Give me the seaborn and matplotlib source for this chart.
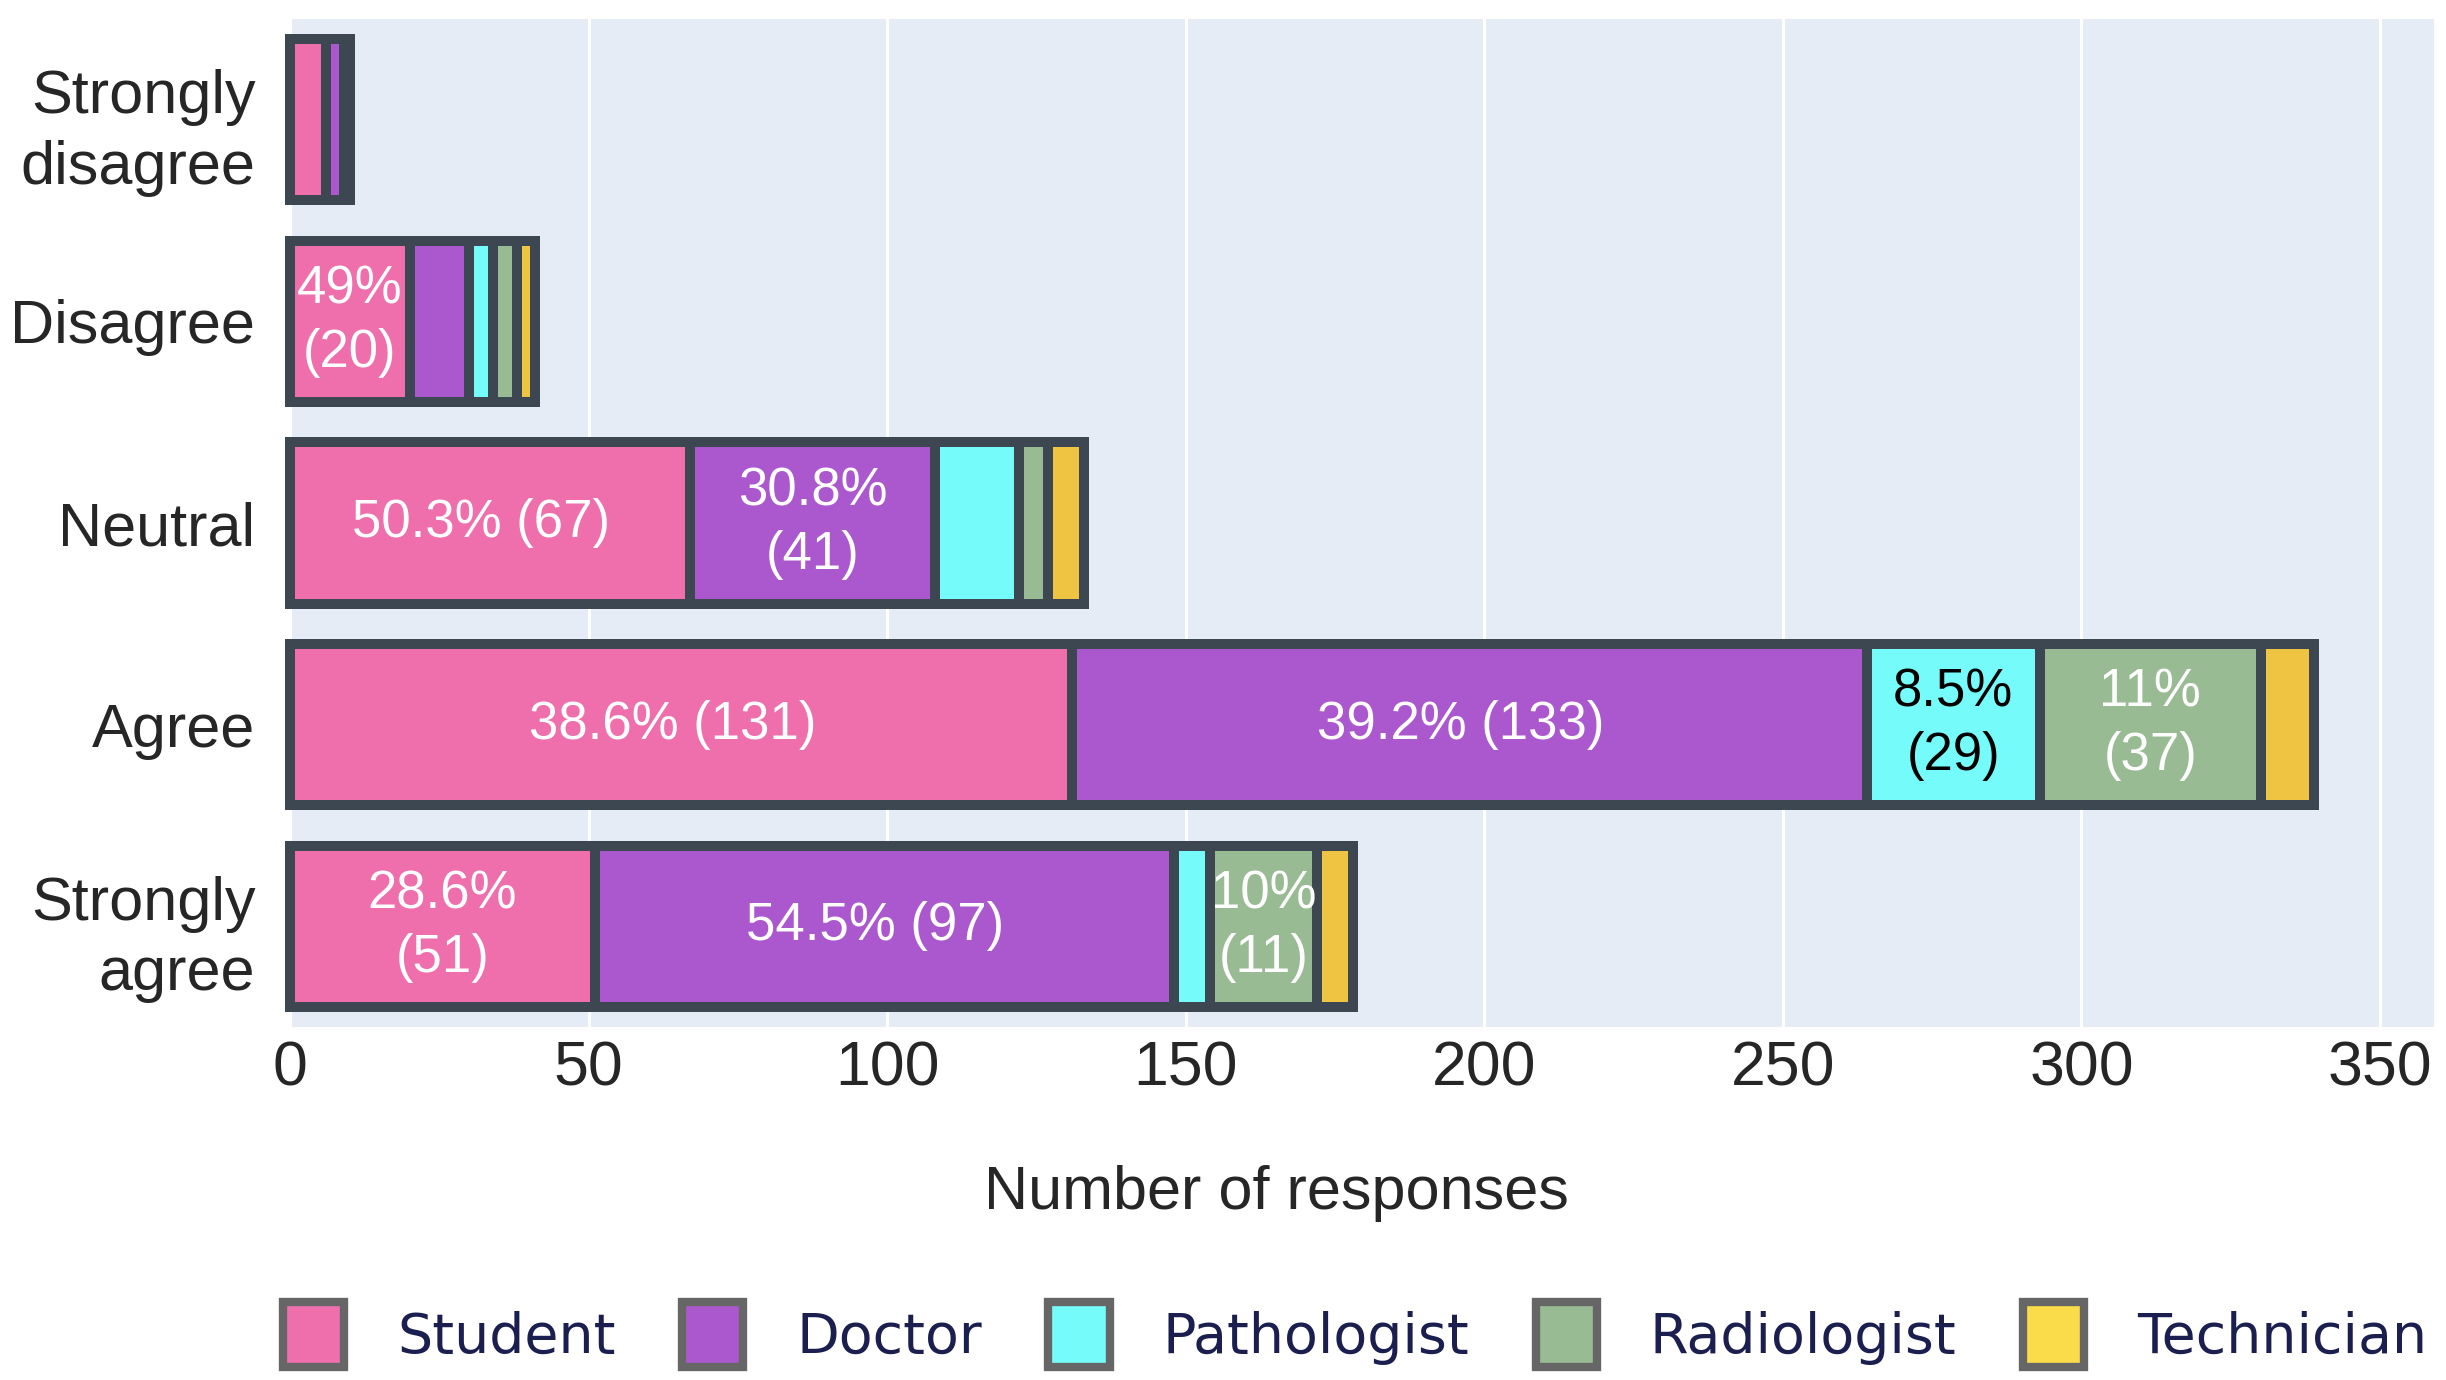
import numpy as np
import pandas as pd
import matplotlib
matplotlib.use("Agg")
import matplotlib.pyplot as plt
import seaborn as sns
from matplotlib.patches import Patch

# Data
responses = ["Strongly\ndisagree", "Disagree", "Neutral", "Agree", "Strongly\nagree"]
groups = ["Student", "Doctor", "Pathologist", "Radiologist", "Technician"]
student = [6, 20, 67, 131, 51]
doctor = [3, 10, 41, 133, 97]
pathologist = [0, 4, 14, 29, 6]
radiologist = [1, 4, 5, 37, 18]
technician = [0, 3, 6, 9, 6]

# segment labels as printed on the chart (None = no label)
student_labels = [None, "49%\n(20)", "50.3% (67)", "38.6% (131)", "28.6%\n(51)"]
doctor_labels = [None, None, "30.8%\n(41)", "39.2% (133)", "54.5% (97)"]
pathologist_labels = [None, None, None, "8.5%\n(29)", None]
radiologist_labels = [None, None, None, "11%\n(37)", "10%\n(11)"]
technician_labels = [None, None, None, None, None]

colors = ["#EE6FAC", "#AB58CE", "#76FBFB", "#99BB93", "#F0C443"]
legend_colors = ["#EE6FAC", "#AB58CE", "#76FBFB", "#99BB93", "#FADB4A"]
label_colors = ["white", "white", "black", "white", "white"]
edge = "#3C4751"

values = [student, doctor, pathologist, radiologist, technician]
labels = [student_labels, doctor_labels, pathologist_labels, radiologist_labels, technician_labels]

# cumulative widths so each segment is drawn as an overlaid bar from zero
cum = np.cumsum(np.array(values), axis=0)

sns.set_style("whitegrid", {"axes.facecolor": "#E5ECF6", "grid.color": "white"})
plt.rcParams["font.family"] = ["Liberation Sans", "DejaVu Sans"]

fig = plt.figure(figsize=(24.46, 13.80), dpi=100)
ax = fig.add_axes([0.1186, 0.2558, 0.8764, 0.7304])

for i in reversed(range(len(groups))):
    df = pd.DataFrame({"response": responses, "count": cum[i]})
    sns.barplot(data=df, x="count", y="response", order=responses, color=colors[i],
                saturation=1, width=0.8, edgecolor=edge, linewidth=7.2,
                errorbar=None, orient="h", ax=ax, zorder=3)

for p in ax.patches:
    p.set_clip_on(False)

for i in range(len(groups)):
    for j, r in enumerate(responses):
        txt = labels[i][j]
        if txt is None:
            continue
        xc = cum[i][j] - values[i][j] / 2
        # plotly nudged the wide single-line labels slightly left
        if "\n" not in txt:
            xc -= 1.5
        ax.text(xc, j, txt, ha="center", va="center", color=label_colors[i],
                fontsize=38, linespacing=1.35, zorder=5)

ax.set_xlim(0, 359)
ax.set_ylim(4.5, -0.5)
ax.set_xticks(range(0, 351, 50))
ax.grid(axis="x", color="white", linewidth=2.2, zorder=0)
ax.grid(axis="y", visible=False)
ax.set_axisbelow(True)
for s in ax.spines.values():
    s.set_visible(False)
ax.tick_params(axis="x", labelsize=45, length=0, pad=9)
ax.tick_params(axis="y", labelsize=44, length=0, pad=25)
for t in ax.get_yticklabels():
    t.set_linespacing(1.3)
ax.set_ylabel("")
ax.set_xlabel("Number of responses", fontsize=44)
ax.xaxis.set_label_coords(0.46, -0.137)

handles = [Patch(facecolor=legend_colors[i], edgecolor="#666666", linewidth=6) for i in range(len(groups))]
leg = fig.legend(handles, groups, loc="center", bbox_to_anchor=(0.554, 0.033), ncol=5,
                 frameon=False, handlelength=1.1, handleheight=1.4, handletextpad=0.95,
                 columnspacing=1.2, prop={"family": "DejaVu Sans", "size": 40})
for t in leg.get_texts():
    t.set_color("#1B1F4F")

fig.savefig("out.png", dpi=100)
